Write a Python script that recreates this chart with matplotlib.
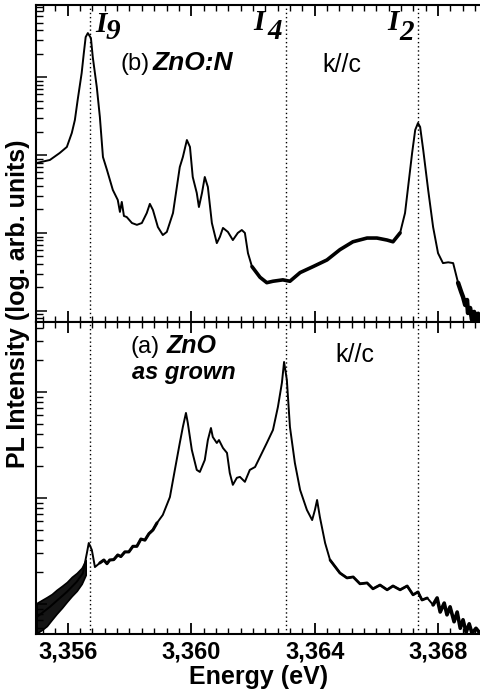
import numpy as np
import matplotlib
matplotlib.use("Agg")
import matplotlib.pyplot as plt
from matplotlib.ticker import FixedLocator, LogLocator, NullFormatter

plt.rcParams['font.family'] = ['Liberation Sans', 'DejaVu Sans']

# ---------------- data ----------------
# (b) ZnO:N, k//c
energy_b = [3.35499, 3.35542, 3.35574, 3.35597, 3.35613, 3.35623, 3.35632, 3.35645,
            3.35652, 3.35658, 3.35665, 3.35675, 3.35681, 3.35694, 3.35704, 3.35714,
            3.35727, 3.35746, 3.35762, 3.35769, 3.35775, 3.35782, 3.35791, 3.35808,
            3.35824, 3.35840, 3.35856, 3.35866, 3.35876, 3.35892, 3.35908, 3.35921,
            3.35941, 3.35963, 3.35973, 3.35986, 3.35996, 3.36005, 3.36018, 3.36025,
            3.36035, 3.36044, 3.36054, 3.36067, 3.36083, 3.36093, 3.36103, 3.36119,
            3.36135, 3.36151, 3.36164, 3.36174, 3.36184, 3.36197, 3.36223, 3.36245,
            3.36265, 3.36297, 3.36320, 3.36353, 3.36395, 3.36440, 3.36482, 3.36524,
            3.36570, 3.36602, 3.36635, 3.36654, 3.36677, 3.36693, 3.36703, 3.36716,
            3.36726, 3.36735, 3.36742, 3.36752, 3.36768, 3.36784, 3.36800, 3.36816,
            3.36833, 3.36849, 3.36865, 3.36875, 3.36881, 3.36888, 3.36894, 3.36897,
            3.36904, 3.36910, 3.36917, 3.36923, 3.36930, 3.36936]
intensity_b = [789, 863, 1062, 1268, 1914, 2812, 5070, 11246,
               20324, 32584, 36644, 31623, 18030, 7447, 3069, 942,
               643, 356, 265, 186, 250, 165, 160, 134,
               127, 134, 180, 236, 197, 119, 94, 103,
               180, 701, 942, 1556, 1268, 522, 326, 215,
               326, 522, 389, 134, 74, 89, 116, 103,
               81, 100, 109, 100, 55, 37, 27, 23,
               24, 25, 24, 31, 37, 45, 61, 77,
               86, 86, 81, 77, 100, 180, 389, 1062,
               2094, 2570, 2286, 1159, 356, 119, 55, 41,
               42, 41, 22.9, 17.5, 15.1, 11.9, 13.8, 9.4,
               10.9, 7.7, 9.7, 7.5, 9.2, 7.7]
# energy ranges where the (b) trace is visibly noisy (drawn as a thicker trace)
noisy_b = [(3.36190, 3.36680), (3.36860, 3.36936)]

# (a) ZnO as grown, k//c
energy_a = [3.35499, 3.35542, 3.35597, 3.35629, 3.35649, 3.35662,
            3.35668, 3.35678, 3.35688, 3.35704, 3.35717, 3.35727, 3.35736, 3.35749,
            3.35762, 3.35772, 3.35785, 3.35798, 3.35811, 3.35824, 3.35837, 3.35850,
            3.35863, 3.35876, 3.35889, 3.35908, 3.35931, 3.35947, 3.35963, 3.35973,
            3.35983, 3.35989, 3.36002, 3.36018, 3.36028, 3.36044, 3.36054, 3.36064,
            3.36070, 3.36083, 3.36090, 3.36103, 3.36116, 3.36125, 3.36135, 3.36148,
            3.36158, 3.36174, 3.36190, 3.36207, 3.36223, 3.36245, 3.36265, 3.36281,
            3.36294, 3.36301, 3.36310, 3.36320, 3.36336, 3.36353, 3.36375, 3.36392,
            3.36401, 3.36408, 3.36417, 3.36434, 3.36450, 3.36482, 3.36505, 3.36525,
            3.36547, 3.36570, 3.36589, 3.36612, 3.36635, 3.36654, 3.36677, 3.36700,
            3.36719, 3.36735, 3.36748, 3.36765, 3.36784, 3.36797, 3.36807, 3.36820,
            3.36829, 3.36839, 3.36852, 3.36862, 3.36872, 3.36881, 3.36891, 3.36901,
            3.36910, 3.36923, 3.36936]
intensity_a = [0.75, 0.94, 1.30, 1.62, 1.95, 3.03,
               3.76, 3.23, 2.23, 2.44, 2.60, 2.40, 2.60, 2.62,
               2.90, 2.80, 3.10, 3.10, 3.50, 3.50, 4.10, 4.00,
               4.60, 4.99, 5.81, 6.92, 10.2, 18.4, 33.0, 46.8,
               63.4, 51.0, 28.4, 18.4, 17.6, 22.8, 35.2, 45.7,
               37.6, 33.0, 35.2, 29.6, 26.6, 17.2, 13.3, 15.5,
               15.8, 14.2, 18.4, 19.6, 24.4, 33.0, 43.8, 72.1,
               122, 192, 130, 46.8, 21.4, 11.9, 7.71, 6.19,
               7.71, 9.57, 6.62, 3.76, 2.60, 1.96, 1.76, 1.80,
               1.55, 1.58, 1.39, 1.51, 1.36, 1.48, 1.36, 1.48,
               1.22, 1.30, 1.09, 1.14, 0.98, 1.14, 0.84, 1.02,
               0.79, 0.94, 0.68, 0.84, 0.59, 0.71, 0.54, 0.65,
               0.53, 0.59, 0.53]
noisy_a = [(3.35700, 3.35890), (3.36450, 3.36780), (3.36780, 3.36936)]

# noise envelope of (a) at the low-energy end
band_energy_a = [3.35499, 3.35516, 3.35532, 3.35548, 3.35564, 3.35581, 3.35597,
                 3.35613, 3.35629, 3.35645, 3.35658]
band_upper_a = [1.02, 1.09, 1.16, 1.24, 1.36, 1.48, 1.61, 1.80, 1.96, 2.19, 2.60]
band_lower_a = [0.53, 0.57, 0.62, 0.71, 0.81, 0.92, 1.05, 1.19, 1.33, 1.55, 1.88]

# bound-exciton line positions (I9, I4, I2)
line_energies = [3.35671, 3.36307, 3.36735]
line_subscripts = ["9", "4", "2"]

xtick_values = [3.356, 3.360, 3.364, 3.368]
xtick_labels = ["3,356", "3,360", "3,364", "3,368"]
xminor_values = [3.3548 + 0.0004 * k for k in range(37)]

# ---------------- figure ----------------
W, H = 480, 694
fig = plt.figure(figsize=(W / 100, H / 100), dpi=100)


def fx(px):
    return px / W


def fy(py):
    return 1 - py / H


LEFT, RIGHT = 36, 480
TOP, MID, BOT = 5, 322, 634
ax_b = fig.add_axes([fx(LEFT), fy(MID), fx(RIGHT) - fx(LEFT), fy(TOP) - fy(MID)])
ax_a = fig.add_axes([fx(LEFT), fy(BOT), fx(RIGHT) - fx(LEFT), fy(MID) - fy(BOT)])


def draw(ax, e, i, noisy, widths):
    e = np.asarray(e)
    i = np.asarray(i)
    ax.plot(e, i, color='black', lw=1.4, solid_joinstyle='round')
    for (lo, hi), w in zip(noisy, widths):
        m = (e >= lo) & (e <= hi)
        ax.plot(e[m], i[m], color='black', lw=w, solid_joinstyle='round',
                solid_capstyle='round')


draw(ax_b, energy_b, intensity_b, noisy_b, [2.6, 3.2])
draw(ax_a, energy_a, intensity_a, noisy_a, [2.2, 2.0, 2.6])
ax_a.fill_between(band_energy_a, band_lower_a, band_upper_a, color='#151515',
                  lw=1.2, edgecolor='black')

ax_b.set_ylim(7.2, 8.4e4)
ax_a.set_ylim(0.521, 457)

for ax in (ax_a, ax_b):
    ax.set_xlim(3.35497, 3.36936)
    ax.set_yscale('log')
    ax.yaxis.set_major_locator(LogLocator(base=10, numticks=20))
    ax.yaxis.set_minor_locator(LogLocator(base=10, subs=np.arange(2, 10), numticks=20))
    ax.yaxis.set_major_formatter(NullFormatter())
    ax.yaxis.set_minor_formatter(NullFormatter())
    ax.xaxis.set_major_locator(FixedLocator(xtick_values))
    ax.xaxis.set_minor_locator(FixedLocator(xminor_values))
    ax.tick_params(axis='y', which='major', direction='in', length=8, width=1.1,
                   left=True, right=False)
    ax.tick_params(axis='y', which='minor', direction='in', length=5, width=1.0,
                   left=True, right=False)
    ax.tick_params(axis='x', which='major', direction='in', length=8, width=1.3,
                   top=True, bottom=True)
    ax.tick_params(axis='x', which='minor', direction='in', length=4.5, width=1.0,
                   top=True, bottom=True)
    for s in ('left', 'top', 'bottom'):
        ax.spines[s].set_linewidth(1.5)
    ax.spines['right'].set_visible(False)
    for e in line_energies:
        ax.axvline(e, color='black', lw=1.0, ls=(0, (1, 2)))

ax_b.tick_params(axis='x', labelbottom=False)
ax_a.set_xticklabels(xtick_labels, fontsize=17, fontweight='bold')
ax_a.tick_params(axis='x', which='major', pad=5)

# axis labels
fig.text(fx(259), fy(684), "Energy (eV)", fontsize=18, fontweight='bold',
         ha='center', va='baseline')
fig.text(fx(30), fy(304), "PL Intensity (log. arb. units)", fontsize=18,
         fontweight='bold', rotation=90, ha='right', va='center')

# panel annotations
fig.text(fx(121), fy(70), "(b)", fontsize=17, va='baseline')
fig.text(fx(153), fy(70), "ZnO:N", fontsize=19, fontweight='bold', style='italic',
         va='baseline')
fig.text(fx(322), fy(72), "k//c", fontsize=18, va='baseline')
fig.text(fx(130), fy(353), "(a)", fontsize=17, va='baseline')
fig.text(fx(167), fy(353), "ZnO", fontsize=18, fontweight='bold', style='italic',
         va='baseline')
fig.text(fx(132), fy(379), "as grown", fontsize=17, fontweight='bold', style='italic',
         va='baseline')
fig.text(fx(335), fy(362), "k//c", fontsize=18, va='baseline')

# I labels
serif = dict(family='Liberation Serif', fontweight='bold', style='italic', fontsize=21)
i_pos = [(95, 32, 106, 39), (253, 30, 267, 39), (387, 30, 399, 40)]
for (ix, iy, sx, sy), sub in zip(i_pos, line_subscripts):
    fig.text(fx(ix), fy(iy), "I", va='baseline', **serif)
    fig.text(fx(sx), fy(sy), sub, va='baseline', **serif)

fig.savefig("out.png", dpi=100)
